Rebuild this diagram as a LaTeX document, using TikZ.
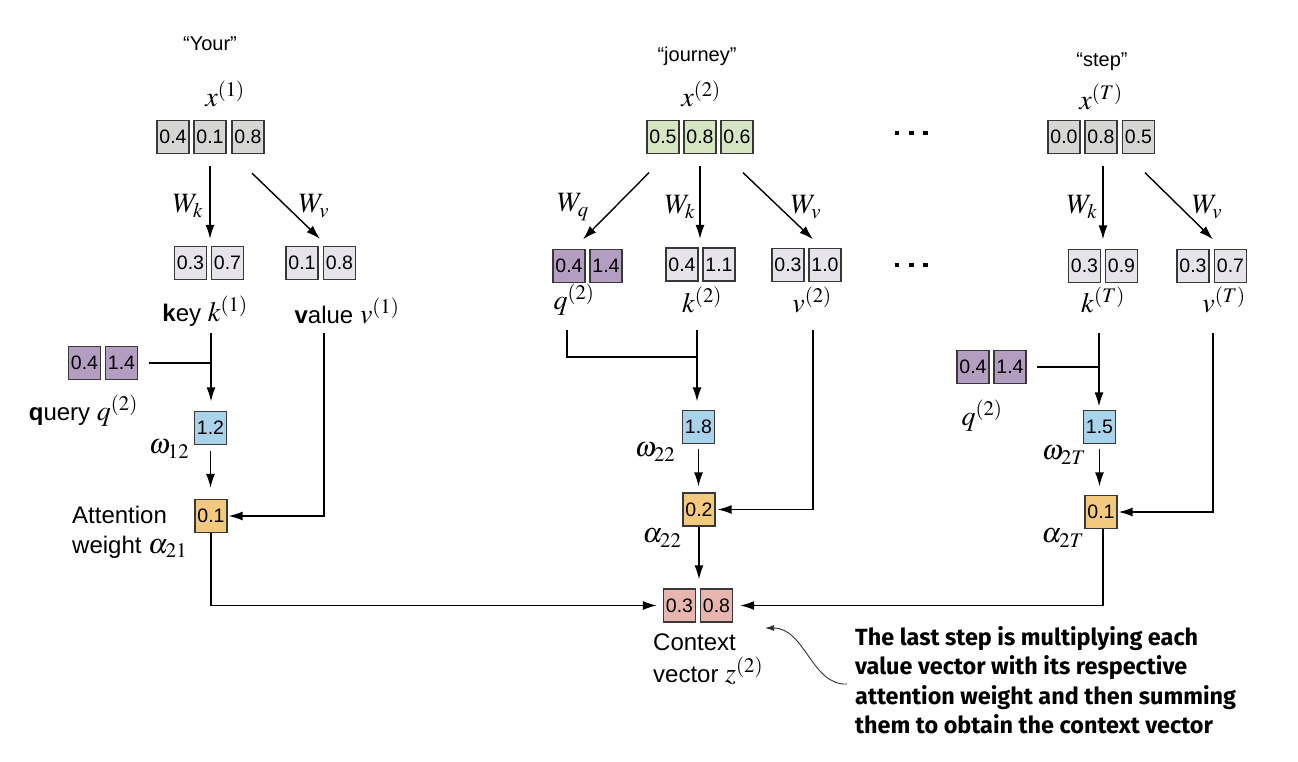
\documentclass[tikz,border=0pt]{standalone}
\usepackage{mathptmx}
\usepackage[no-math]{fontspec}
\newfontfamily\lsans{Liberation Sans}
\newfontfamily\fira{Fira Sans}
\usetikzlibrary{arrows.meta,calc}
\definecolor{cgray}{HTML}{D6D6D4}
\definecolor{clight}{HTML}{E6E4EA}
\definecolor{cgreen}{HTML}{D6E6C3}
\definecolor{cpurple}{HTML}{B39DC0}
\definecolor{cblue}{HTML}{A9D3EA}
\definecolor{corange}{HTML}{F2C97E}
\definecolor{cpink}{HTML}{E8B5AF}
\begin{document}
\begin{tikzpicture}[x=1pt,y=-1pt,
  cell/.style={draw=black!78, line width=1.3pt, minimum width=32pt, minimum height=33pt, inner sep=0pt, font=\lsans\fontsize{19.5}{22}\selectfont},
  word/.style={inner sep=0pt, font=\lsans\fontsize{20}{24}\selectfont},
  mlab/.style={inner sep=0pt, font=\fontsize{28}{32}\selectfont},
  tlab/.style={inner sep=0pt, font=\lsans\fontsize{24}{28}\selectfont},
  arr/.style={-{Latex[length=14pt,width=9pt]}, line width=1.4pt},
  ln/.style={line width=1.4pt},
  dotbox/.style={fill=black, minimum size=4.6pt, inner sep=0pt},
  note/.style={inner sep=0pt, align=left, font=\fira\bfseries\fontsize{23.4}{29.5}\selectfont}
]
\path[use as bounding box, fill=white] (0,0) rectangle (1298,762);
\newcommand{\mt}[1]{{\fontsize{28}{32}\selectfont$#1$}}

% ---------------- left column
\node[word] (wYour) at (210,44) {“Your”};
\node[mlab] (lx1) at (225,94) {$x^{(1)}$};
\node[cell,fill=cgray] (x1a) at (173,137) {0.4};
\node[cell,fill=cgray] (x1b) at (210,137) {0.1};
\node[cell,fill=cgray] (x1c) at (248,137) {0.8};
\node[mlab] (lWk1) at (188,206) {$W_k$};
\node[mlab] (lWv1) at (314,206) {$W_v$};
\node[cell,fill=clight] (k1a) at (190.5,263) {0.3};
\node[cell,fill=clight] (k1b) at (227.5,263) {0.7};
\node[cell,fill=clight] (v1a) at (302,263) {0.1};
\node[cell,fill=clight] (v1b) at (339.5,263) {0.8};
\node[tlab] (lk1) at (205,311) {\textbf{k}ey \mt{k^{(1)}}};
\node[tlab] (lv1) at (347,311) {\textbf{v}alue \mt{v^{(1)}}};
\node[cell,fill=cpurple] (q1a) at (84.5,363) {0.4};
\node[cell,fill=cpurple] (q1b) at (121.5,363) {1.4};
\node[tlab,anchor=east] (lq1) at (138,411) {\textbf{q}uery \mt{q^{(2)}}};
\node[cell,fill=cblue] (w1) at (210.5,428) {1.2};
\node[mlab] (lw1) at (169,449) {$\omega_{12}$};
\node[cell,fill=corange] (a1) at (211,516) {0.1};
\node[tlab,anchor=west] (latt) at (72,515) {Attention};
\node[tlab,anchor=west] (lwt) at (72,547) {weight \mt{\alpha_{21}}};

\coordinate (k1down) at (211,333);
\coordinate (v1down) at (324,333);
\coordinate (q1join) at (211,363);
\draw[arr, shorten <=12pt, shorten >=7pt] (x1b.south) -- (x1b.south |- k1a.north);
\draw[arr] ($(x1c.south)+(4,19)$) -- ($(v1a.north)+(18,-7)$);
\draw[ln] ($(q1b.east)+(10.5,0)$) -- (q1join);
\draw[arr, shorten >=9.5pt] (k1down) -- (k1down |- w1.north);
\draw[arr, shorten <=6pt, shorten >=11pt] (w1.south) -- (w1.south |- a1.north);
\draw[arr, shorten >=1pt] (v1down) |- (a1.east);

% ---------------- middle column
\node[word] (wjour) at (697,56) {“journey”};
\node[mlab] (lx2) at (701,94) {$x^{(2)}$};
\node[cell,fill=cgreen] (x2a) at (663,137) {0.5};
\node[cell,fill=cgreen] (x2b) at (700,137) {0.8};
\node[cell,fill=cgreen] (x2c) at (737,137) {0.6};
\node[mlab] (lWq2) at (573,207) {$W_q$};
\node[mlab] (lWk2) at (680,207) {$W_k$};
\node[mlab] (lWv2) at (806,207) {$W_v$};
\node[cell,fill=cpurple] (q2a) at (569,266) {0.4};
\node[cell,fill=cpurple] (q2b) at (606,266) {1.4};
\node[cell,fill=clight] (k2a) at (682,264.5) {0.4};
\node[cell,fill=clight] (k2b) at (719,264.5) {1.1};
\node[cell,fill=clight] (v2a) at (788,265) {0.3};
\node[cell,fill=clight] (v2b) at (825,265) {1.0};
\node[mlab] (lq2) at (574,300) {$q^{(2)}$};
\node[mlab] (lk2) at (702,300) {$k^{(2)}$};
\node[mlab] (lv2) at (812,300) {$v^{(2)}$};
\node[cell,fill=cblue] (w2) at (698.5,427) {1.8};
\node[mlab] (lw2) at (655,452) {$\omega_{22}$};
\node[cell,fill=corange] (a2) at (699,509.5) {0.2};
\node[mlab] (la2) at (662,538) {$\alpha_{22}$};
\node[cell,fill=cpink] (z1) at (679.5,605.5) {0.3};
\node[cell,fill=cpink] (z2) at (716.5,605.5) {0.8};
\node[tlab,anchor=west] (lctx1) at (653,642) {Context};
\node[tlab,anchor=west] (lctx2) at (653,671) {vector \mt{z^{(2)}}};

\coordinate (q2down) at (567,330);
\coordinate (k2down) at (697,330);
\coordinate (v2down) at (813,330);
\draw[arr] ($(x2a.south)+(-14,18.5)$) -- ($(q2b.north)+(-23,-9.5)$);
\draw[arr, shorten <=11.5pt, shorten >=8.5pt] (x2b.south) -- (x2b.south |- k2a.north);
\draw[arr] ($(x2c.south)+(6,18.5)$) -- ($(v2a.north)+(25,-8.5)$);
\draw[ln] (q2down) |- ($(k2down)+(0,27)$);
\draw[arr, shorten >=8.5pt] (k2down) -- (k2down |- w2.north);
\draw[arr, shorten <=4.5pt, shorten >=6pt] (w2.south) -- (w2.south |- a2.north);
\draw[arr, shorten >=2pt] (v2down) |- (a2.east);
\draw[arr, shorten >=9pt] (a2.south) -- (a2.south |- z1.north);

% ---------------- right column
\node[word] (wstep) at (1102,62) {“step”};
\node[mlab] (lxT) at (1101,97) {$x^{(T)}$};
\node[cell,fill=cgray] (xTa) at (1064,137) {0.0};
\node[cell,fill=cgray] (xTb) at (1101,137) {0.8};
\node[cell,fill=cgray] (xTc) at (1138.5,137) {0.5};
\node[dotbox] (d1) at (897,133) {};
\node[dotbox] (d2) at (911.5,133) {};
\node[dotbox] (d3) at (925.5,133) {};
\node[dotbox] (d4) at (897,265) {};
\node[dotbox] (d5) at (911.5,265) {};
\node[dotbox] (d6) at (925.5,265) {};
\node[mlab] (lWkT) at (1082,207) {$W_k$};
\node[mlab] (lWvT) at (1207,207) {$W_v$};
\node[cell,fill=clight] (kTa) at (1084.5,266) {0.3};
\node[cell,fill=clight] (kTb) at (1121.5,266) {0.9};
\node[cell,fill=clight] (vTa) at (1193,266) {0.3};
\node[cell,fill=clight] (vTb) at (1230.5,266) {0.7};
\node[mlab] (lkT) at (1103,300) {$k^{(T)}$};
\node[mlab] (lvT) at (1224,300) {$v^{(T)}$};
\node[cell,fill=cpurple] (qTa) at (973,367) {0.4};
\node[cell,fill=cpurple] (qTb) at (1010,367) {1.4};
\node[mlab] (lqT) at (982,416) {$q^{(2)}$};
\node[cell,fill=cblue] (wT) at (1099.5,427) {1.5};
\node[mlab] (lwT) at (1064,455) {$\omega_{2T}$};
\node[cell,fill=corange] (aT) at (1101,512) {0.1};
\node[mlab] (laT) at (1063,538) {$\alpha_{2T}$};

\coordinate (kTdown) at (1099,333);
\coordinate (vTdown) at (1213,333);
\coordinate (qTjoin) at (1099,367);
\draw[arr, shorten <=11.5pt, shorten >=9.5pt] ($(xTb.south)+(2,0)$) -- ($(xTb.south |- kTa.north)+(2,0)$);
\draw[arr] ($(xTc.south)+(6.5,18.5)$) -- ($(vTa.north)+(20,-9.5)$);
\draw[ln] ($(qTb.east)+(10.5,0)$) -- (qTjoin);
\draw[arr, shorten >=3.5pt] (kTdown) -- (kTdown |- wT.north);
\draw[arr, shorten <=4.5pt, shorten >=8.5pt] (wT.south) -- (wT.south |- aT.north);
\draw[arr, shorten >=1pt] (vTdown) |- (aT.east);

% ---------------- context connections
\draw[arr, shorten >=6pt] (a1.south) |- (z1.west);
\draw[arr, shorten >=7pt] ($(aT.south)+(2,0)$) |- (z2.east);

% ---------------- annotation
\node[note, anchor=north west] (note) at (855,626) {The last step is multiplying each\\value vector with its respective\\attention weight and then summing\\them to obtain the context vector};
\coordinate (noteStart) at (847,684);
\coordinate (noteTip) at (765,628);
\draw[-{Latex[length=9pt,width=6pt]}, line width=0.9pt, black!80] (noteStart) .. controls (812,686) and (805,628) .. (noteTip);
\end{tikzpicture}
\end{document}
